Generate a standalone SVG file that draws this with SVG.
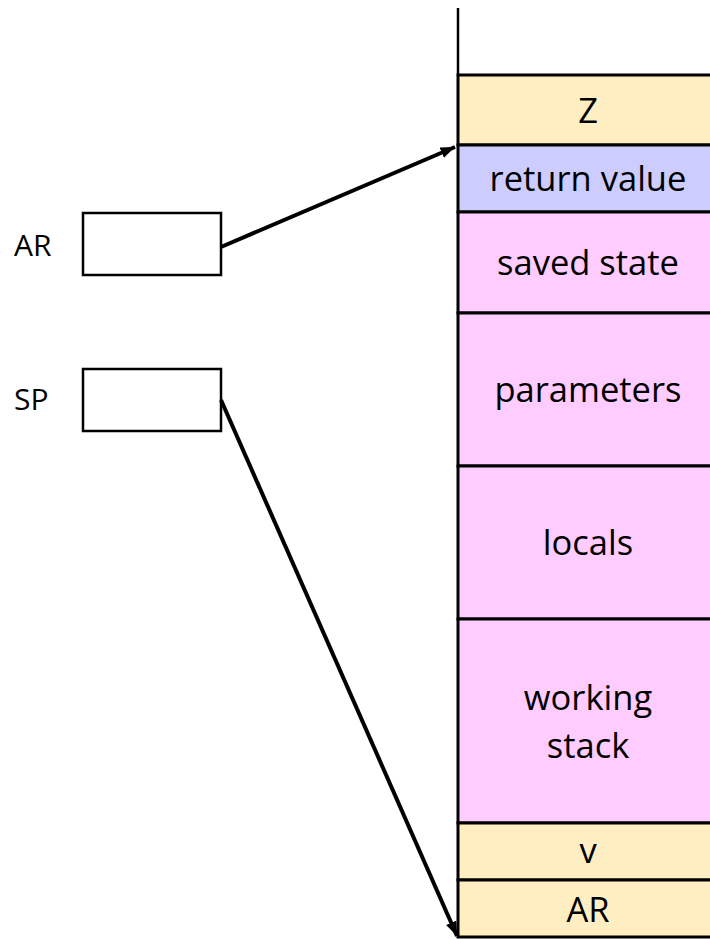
<svg xmlns="http://www.w3.org/2000/svg" width="710" height="939" viewBox="0 0 710 939">
  <style>
    .cell { stroke: #000; stroke-width: 3; }
    .yel { fill: #FFEEC2; }
    .blu { fill: #CCCCFF; }
    .pnk { fill: #FFCCFF; }
    .reg { fill: #fff; stroke: #000; stroke-width: 2.5; }
    .t { font-family: "Open Sans", "Liberation Sans", sans-serif; font-size: 34.5px; fill: #000; text-anchor: middle; }
    .lbl { font-family: "Open Sans", "Liberation Sans", sans-serif; font-size: 30px; fill: #000; }
    .conn { stroke: #000; stroke-width: 4; fill: none; }
  </style>
  <defs>
    <marker id="arrow" markerWidth="4" markerHeight="3" refX="3.6" refY="1.4" orient="auto" markerUnits="strokeWidth">
      <path d="M0,0 L3.6,1.4 L0,2.8 z" fill="#000"/>
    </marker>
  </defs>

  <!-- stack spine above the frame -->
  <line x1="458" y1="8" x2="458" y2="76" stroke="#000" stroke-width="2.5"/>

  <!-- stack frame cells -->
  <g id="cell-z">
    <rect class="cell yel" x="458" y="75" width="262" height="70"/>
    <text class="t" x="588" y="123">Z</text>
  </g>
  <g id="cell-return-value">
    <rect class="cell blu" x="458" y="145" width="262" height="67"/>
    <text class="t" x="588" y="191">return value</text>
  </g>
  <g id="cell-saved-state">
    <rect class="cell pnk" x="458" y="212" width="262" height="101"/>
    <text class="t" x="588" y="275">saved state</text>
  </g>
  <g id="cell-parameters">
    <rect class="cell pnk" x="458" y="313" width="262" height="153"/>
    <text class="t" x="588" y="402">parameters</text>
  </g>
  <g id="cell-locals">
    <rect class="cell pnk" x="458" y="466" width="262" height="153"/>
    <text class="t" x="588" y="555">locals</text>
  </g>
  <g id="cell-working-stack">
    <rect class="cell pnk" x="458" y="619" width="262" height="204"/>
    <text class="t" x="588" y="710">working</text>
    <text class="t" x="588" y="758">stack</text>
  </g>
  <g id="cell-v">
    <rect class="cell yel" x="458" y="823" width="262" height="57"/>
    <text class="t" x="588" y="863">v</text>
  </g>
  <g id="cell-ar">
    <rect class="cell yel" x="458" y="880" width="262" height="57"/>
    <text class="t" x="588" y="922">AR</text>
  </g>

  <!-- registers -->
  <g id="reg-ar">
    <text class="lbl" x="14" y="256">AR</text>
    <rect class="reg" x="83" y="213" width="138" height="62"/>
  </g>
  <g id="reg-sp">
    <text class="lbl" x="14" y="410">SP</text>
    <rect class="reg" x="83" y="369" width="138" height="62"/>
  </g>

  <!-- pointers -->
  <g id="connectors">
    <line class="conn" x1="221" y1="247" x2="455" y2="147" marker-end="url(#arrow)"/>
    <line class="conn" x1="221" y1="400" x2="457" y2="936" marker-end="url(#arrow)"/>
  </g>
</svg>
